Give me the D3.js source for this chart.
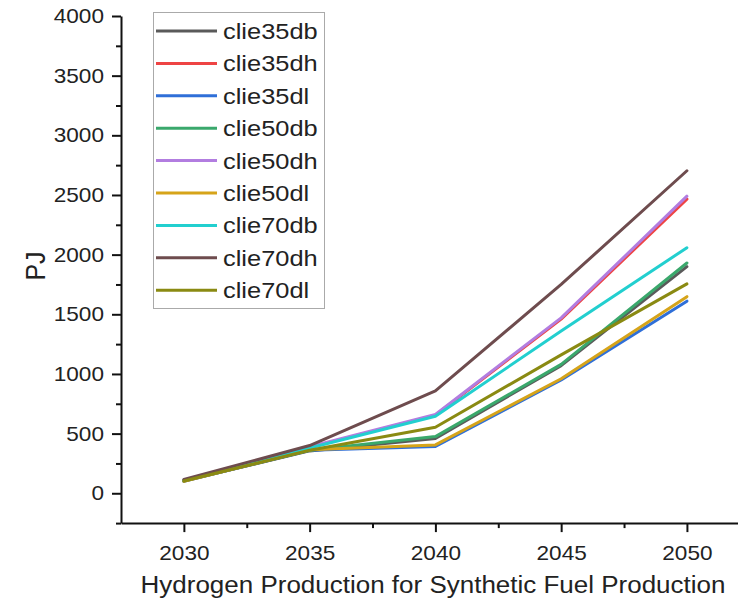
<!DOCTYPE html>
<html><head><meta charset="utf-8">
<script src="https://cdn.jsdelivr.net/npm/d3@7/dist/d3.min.js"></script>
<style>body{margin:0;background:#fff}svg{display:block}text{font-family:"Liberation Sans",Arial,sans-serif;fill:#222}</style>
</head><body><svg id="c" width="738" height="604"></svg>
<script>
const years = [2030, 2035, 2040, 2045, 2050];
const seriesNames = ["clie35db","clie35dh","clie35dl","clie50db","clie50dh","clie50dl","clie70db","clie70dh","clie70dl"];
const clie35db = [105, 355, 460, 1070, 1900];
const clie35dh = [108, 385, 655, 1460, 2465];
const clie35dl = [100, 360, 392, 950, 1610];
const clie50db = [105, 360, 475, 1080, 1930];
const clie50dh = [110, 390, 660, 1470, 2490];
const clie50dl = [100, 365, 405, 960, 1648];
const clie70db = [108, 380, 645, 1360, 2058];
const clie70dh = [115, 400, 858, 1750, 2703];
const clie70dl = [103, 360, 553, 1160, 1755];
const yTicks = [0, 500, 1000, 1500, 2000, 2500, 3000, 3500, 4000];
const xTicks = [2030, 2035, 2040, 2045, 2050];
const colors = ["#5a5a5a","#ee4444","#2f6fd8","#3aa86c","#b27de0","#d6a41a","#22cfcf","#6e4c4e","#8a8a12"];
const values = [clie35db,clie35dh,clie35dl,clie50db,clie50dh,clie50dl,clie70db,clie70dh,clie70dl];

const SX = 1.13;
const svg = d3.select("#c");
const x = d3.scaleLinear().domain([2027.5, 2052.5]).range([121, 749.8]);
const y = d3.scaleLinear().domain([-250, 4000]).range([523.1, 16]);

// y axis
const yAx = svg.append("g").attr("transform","translate(121,0)")
  .call(d3.axisLeft(y).tickValues(yTicks).tickSize(9).tickPadding(8).tickFormat(d3.format("d")).tickSizeOuter(0));
yAx.selectAll("text").attr("font-size", 20).attr("font-family","Liberation Sans, Arial, sans-serif")
  .attr("fill","#222")
  .each(function(){ const t=d3.select(this); t.attr("transform","scale("+SX+",1)").attr("x", -17/SX); });
const yMinor = svg.append("g").attr("transform","translate(121,0)")
  .call(d3.axisLeft(y).tickValues(d3.range(-250, 4001, 500).filter(v=>v%500!==0)).tickSize(5).tickFormat("").tickSizeOuter(0));
yMinor.select(".domain").remove();
// x axis
const xAx = svg.append("g").attr("transform","translate(0,523.1)")
  .call(d3.axisBottom(x).tickValues(xTicks).tickSize(9).tickPadding(14).tickFormat(d3.format("d")).tickSizeOuter(0));
xAx.selectAll("text").attr("font-size", 20).attr("font-family","Liberation Sans, Arial, sans-serif").attr("fill","#222")
  .attr("transform","scale("+SX+",1)");
const xMinor = svg.append("g").attr("transform","translate(0,523.1)")
  .call(d3.axisBottom(x).tickValues([2032.5,2037.5,2042.5,2047.5]).tickSize(5).tickFormat("").tickSizeOuter(0));
xMinor.select(".domain").remove();
svg.selectAll(".domain, .tick line").attr("stroke","#111").attr("stroke-width",2);

// lines
const line = d3.line().x((d,i)=>x(years[i])).y(d=>y(d));
values.forEach((vals,k)=>{
  svg.append("path").datum(vals).attr("d", line).attr("fill","none")
    .attr("stroke", colors[k]).attr("stroke-width", 3).attr("stroke-linejoin","round").attr("stroke-linecap","round");
});

// legend
const lg = svg.append("g");
lg.append("rect").attr("x",153.5).attr("y",12.5).attr("width",171).attr("height",296)
  .attr("fill","#fff").attr("stroke","#aaa").attr("stroke-width",1);
seriesNames.forEach((n,k)=>{
  const cy = 31 + k*32.4;
  lg.append("line").attr("x1",156).attr("x2",217).attr("y1",cy).attr("y2",cy)
    .attr("stroke",colors[k]).attr("stroke-width",3);
  lg.append("text").attr("transform","translate(223,"+(cy+8)+") scale("+SX+",1)")
    .attr("font-size",22.5).text(n);
});

// axis titles
svg.append("text").attr("transform","translate(433,593) scale("+SX+",1)")
  .attr("text-anchor","middle").attr("font-size",23).text("Hydrogen Production for Synthetic Fuel Production");
svg.append("text").attr("transform","translate(45,266) rotate(-90) scale(1,"+SX+")")
  .attr("text-anchor","middle").attr("font-size",25).text("PJ");
</script></body></html>
